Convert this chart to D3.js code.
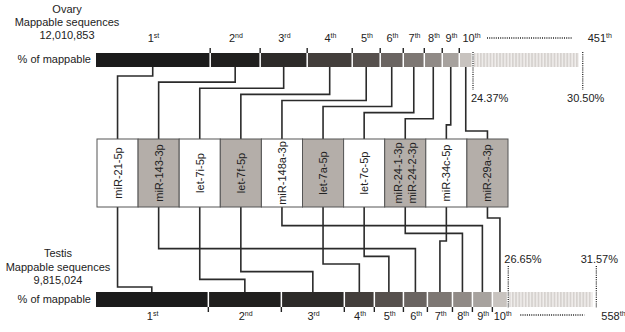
<!DOCTYPE html>
<html lang="en">
  <head>
    <meta charset="utf-8" />
    <title>miRNA ranks, ovary vs testis</title>
    <script src="https://d3js.org/d3.v7.min.js"></script>
    <style>
      body {
        margin: 0;
        background: #fff;
      }
      svg {
        display: block;
        font-family: "Liberation Sans", Arial, sans-serif;
      }
      .conn {
        fill: none;
        stroke: #2b2b2b;
        stroke-width: 1.6;
      }
      .dots {
        stroke: #222;
        stroke-width: 1.3;
        stroke-dasharray: 1 1.2;
      }
    </style>
  </head>
  <body>
    <svg width="625" height="332"></svg>
    <script>

    // miRNAs in the middle row, left to right
    var mirnas = ["miR-21-5p", "miR-143-3p", "let-7i-5p", "let-7f-5p", "miR-148a-3p",
                  "let-7a-5p", "let-7c-5p", "miR-24-1-3p/miR-24-2-3p", "miR-34c-5p", "miR-29a-3p"];

    // rank of each miRNA in each tissue
    var ovaryRank  = [1, 2, 3, 4, 5, 6, 7, 8, 9, 10];
    var testisRank = [1, 6, 2, 3, 9, 4, 5, 8, 7, 10];

    // % of mappable reads, ranks 1..10
    var ovaryPct  = [7.43, 3.23, 3.04, 2.91, 1.81, 1.49, 1.36, 1.16, 1.10, 0.84];
    var testisPct = [7.31, 4.72, 4.07, 1.94, 1.88, 1.55, 1.62, 1.29, 1.29, 0.98];

    var ovaryTotal = 30.50, testisTotal = 31.57;
    var ovaryCount = 451, testisCount = 558;
    var ovarySeqs = "12,010,853", testisSeqs = "9,815,024";

    var rankNums = ["1", "2", "3", "4", "5", "6", "7", "8", "9", "10"];
    var rankSuffix = ["st", "nd", "rd", "th", "th", "th", "th", "th", "th", "th"];

    var segColours = ["#1b1b1b", "#201f1e", "#2d2b29", "#433e3b", "#56504d",
                      "#6a6461", "#7d7773", "#908a86", "#a7a29e", "#c8c3bf"];

    var svg = d3.select("svg");

    var defs = svg.append("defs");
    var pat = defs.append("pattern")
        .attr("id", "tail")
        .attr("patternUnits", "userSpaceOnUse")
        .attr("width", 3.2).attr("height", 20);
    pat.append("rect").attr("width", 3.2).attr("height", 20).attr("fill", "#f1efed");
    pat.append("rect").attr("width", 1.8).attr("height", 20).attr("fill", "#d6d2cf");

    var barLeft = 96, pxPerPct = 15.47, tailPxPerPct = 17.9;

    function barScale(pct, total) {
      var c10 = d3.sum(pct);
      var x10 = barLeft + c10 * pxPerPct;
      return d3.scaleLinear()
          .domain([0, c10, total])
          .range([barLeft, x10, x10 + (total - c10) * tailPxPerPct]);
    }

    var xTop = barScale(ovaryPct, ovaryTotal),
        xBot = barScale(testisPct, testisTotal);

    var box = d3.scaleBand().domain(mirnas).range([97, 508]);
    var boxTop = 139, boxBottom = 207;

    var bars = {
      top: {y: 53, h: 14},
      bot: {y: 292, h: 15}
    };

    // elbows: rank 1 nearest to the bar
    var elbowTop = d3.scaleLinear().domain([1, 10]).range([76, 131]);
    var elbowBot = d3.scaleLinear().domain([1, 10]).range([287, 218]);

    function segments(pct) {
      var acc = 0;
      return pct.map(function(p, i) {
        var s = {i: i, start: acc, end: acc + p};
        acc += p;
        return s;
      });
    }

    function drawBar(x, pct, total, count, cfg, isTop) {
      var segs = segments(pct);
      var c10 = d3.sum(pct);
      var g = svg.append("g");

      g.selectAll(".seg")
          .data(segs)
          .enter().append("rect")
          .attr("class", "seg")
          .attr("x", function(d) { return x(d.start); })
          .attr("y", cfg.y)
          .attr("width", function(d) { return x(d.end) - x(d.start) - 1.5; })
          .attr("height", cfg.h)
          .attr("fill", function(d) { return segColours[d.i]; });

      g.append("rect")
          .attr("x", x(c10) + 1)
          .attr("y", cfg.y)
          .attr("width", x(total) - x(c10) - 5)
          .attr("height", cfg.h)
          .attr("fill", "url(#tail)");

      // ticks at boundaries
      g.selectAll(".tick")
          .data(segs.slice(0, 9))
          .enter().append("line")
          .attr("x1", function(d) { return x(d.end) - 0.75; })
          .attr("x2", function(d) { return x(d.end) - 0.75; })
          .attr("y1", isTop ? cfg.y - 5 : cfg.y + cfg.h)
          .attr("y2", isTop ? cfg.y : cfg.y + cfg.h + 5)
          .attr("stroke", "#222")
          .attr("stroke-width", 1.4);

      // rank labels
      var ly = isTop ? 42 : 320;
      var lab = g.selectAll(".rank")
          .data(segs)
          .enter().append("text")
          .attr("class", "rank")
          .attr("x", function(d) {
            var c = (x(d.start) + x(d.end)) / 2;
            return d.i === 9 ? c + (isTop ? 5 : 2) : c;
          })
          .attr("y", ly)
          .attr("text-anchor", "middle")
          .attr("font-size", 11)
          .attr("fill", "#222");
      lab.append("tspan").text(function(d) { return rankNums[d.i]; });
      lab.append("tspan")
          .attr("font-size", 7)
          .attr("dy", -4)
          .text(function(d) { return rankSuffix[d.i]; });

      var endLab = g.append("text")
          .attr("x", x(total) + 5)
          .attr("y", ly)
          .attr("font-size", 11)
          .attr("fill", "#222");
      endLab.append("tspan").text(count);
      endLab.append("tspan").attr("font-size", 7).attr("dy", -4).text("th");

      // dotted guide between "10th" and the last rank
      var dy = isTop ? 38 : 315;
      g.append("line").attr("class", "dots")
          .attr("x1", x(c10) + (isTop ? 14 : 12)).attr("x2", x(total) - (isTop ? 11 : 12))
          .attr("y1", dy).attr("y2", dy);

      // dotted verticals with cumulative %
      var vy1 = isTop ? 52 : 266, vy2 = isTop ? 90 : 308;
      [c10, total].forEach(function(v, k) {
        g.append("line").attr("class", "dots")
            .attr("x1", x(v)).attr("x2", x(v))
            .attr("y1", vy1).attr("y2", vy2);
        g.append("text")
            .attr("x", k === 0 ? x(v) - (isTop ? 2 : 4) : x(v) + 3)
            .attr("y", isTop ? 102 : 263)
            .attr("text-anchor", k === 0 ? "start" : "middle")
            .attr("font-size", 11)
            .attr("fill", "#222")
            .text(v.toFixed(2) + "%");
      });

      return segs;
    }

    var topSegs = drawBar(xTop, ovaryPct, ovaryTotal, ovaryCount, bars.top, true);
    var botSegs = drawBar(xBot, testisPct, testisTotal, testisCount, bars.bot, false);

    // left-hand captions
    function caption(lines, cx, ys) {
      lines.forEach(function(t, i) {
        svg.append("text")
            .attr("x", cx).attr("y", ys[i])
            .attr("text-anchor", "middle")
            .attr("font-size", 11)
            .attr("fill", "#222")
            .text(t);
      });
    }
    caption(["Ovary", "Mappable sequences", ovarySeqs], 67, [13, 26, 39]);
    caption(["Testis", "Mappable sequences", testisSeqs], 58, [257, 271, 284]);

    svg.append("text").attr("x", 91).attr("y", 63).attr("text-anchor", "end")
        .attr("font-size", 11).attr("fill", "#222").text("% of mappable");
    svg.append("text").attr("x", 91).attr("y", 303).attr("text-anchor", "end")
        .attr("font-size", 11).attr("fill", "#222").text("% of mappable");

    // connectors
    function segMid(x, segs, rank) {
      var s = segs[rank - 1];
      return (x(s.start) + x(s.end)) / 2 - 0.75;
    }

    var conn = svg.append("g");
    mirnas.forEach(function(m, i) {
      var bx = box(m) + box.bandwidth() / 2;
      var tx = segMid(xTop, topSegs, ovaryRank[i]);
      var ey = elbowTop(ovaryRank[i]);
      conn.append("path").attr("class", "conn")
          .attr("d", "M" + tx + "," + (bars.top.y + bars.top.h) + "V" + ey + "H" + bx + "V" + boxTop);

      var sx = segMid(xBot, botSegs, testisRank[i]);
      var ey2 = elbowBot(testisRank[i]);
      conn.append("path").attr("class", "conn")
          .attr("d", "M" + bx + "," + boxBottom + "V" + ey2 + "H" + sx + "V" + bars.bot.y);
    });

    // miRNA boxes
    var cell = svg.append("g").selectAll(".cell")
        .data(mirnas)
        .enter().append("g")
        .attr("class", "cell");

    cell.append("rect")
        .attr("x", function(d) { return box(d); })
        .attr("y", boxTop)
        .attr("width", box.bandwidth())
        .attr("height", boxBottom - boxTop)
        .attr("fill", function(d, i) { return i % 2 ? "#b4aea9" : "#fff"; })
        .attr("stroke", "#555")
        .attr("stroke-width", 1);

    cell.each(function(d) {
      var parts = d.split("/");
      var cx = box(d) + box.bandwidth() / 2,
          cy = (boxTop + boxBottom) / 2;
      var t = d3.select(this).append("text")
          .attr("transform", "translate(" + cx + "," + cy + ") rotate(-90)")
          .attr("text-anchor", "middle")
          .attr("font-size", 11)
          .attr("fill", "#222");
      parts.forEach(function(p, k) {
        t.append("tspan")
            .attr("x", 0)
            .attr("y", (k - (parts.length - 1) / 2) * 14 + 4)
            .text(p);
      });
    });

    </script>
  </body>
</html>
